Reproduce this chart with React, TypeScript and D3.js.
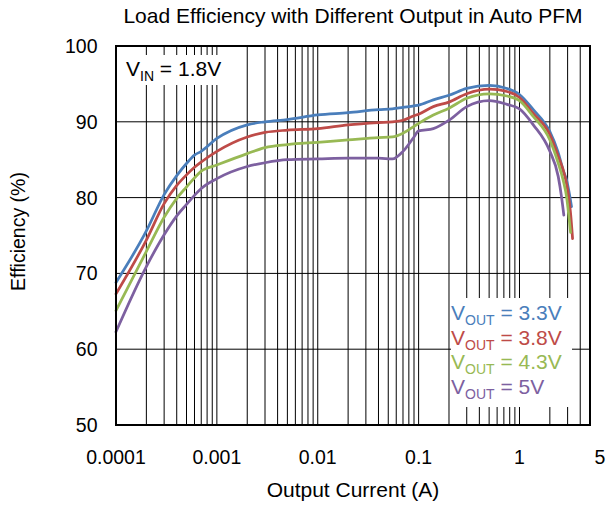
import React from 'react';
import * as d3 from 'd3';

const W = 606;
const H = 511;

const titleText = 'Load Efficiency with Different Output in Auto PFM';
const xTitle = 'Output Current (A)';
const yTitle = 'Efficiency (%)';
const xTickValues = [0.0001, 0.001, 0.01, 0.1, 1, 5];
const xTickLabels = ['0.0001', '0.001', '0.01', '0.1', '1', '5'];
const yTickValues = [50, 60, 70, 80, 90, 100];

const currents = [0.0001, 0.0002, 0.0003, 0.0004, 0.0005, 0.0006, 0.0007, 0.001, 0.002, 0.003, 0.005, 0.01, 0.02, 0.04, 0.055, 0.07, 0.09, 0.1, 0.14, 0.2, 0.3, 0.5, 0.75, 1.0, 1.37, 2.0];
const eff33 = [68.8, 75.6, 80.4, 82.9, 84.5, 85.6, 86.1, 87.8, 89.6, 90.0, 90.3, 90.9, 91.2, 91.6, 91.7, 91.9, 92.1, 92.2, 92.9, 93.5, 94.4, 94.8, 94.4, 93.6, 91.6, 88.7];
const eff38 = [67.3, 74.4, 79.2, 81.6, 83.0, 84.0, 84.7, 86.1, 88.0, 88.6, 88.9, 89.1, 89.6, 89.9, 90.0, 90.2, 90.8, 91.0, 92.0, 92.6, 93.7, 94.3, 94.0, 93.2, 91.1, 88.3];
const eff43 = [65.1, 72.9, 77.4, 79.9, 81.4, 82.6, 83.5, 84.3, 85.8, 86.6, 87.0, 87.3, 87.6, 87.9, 88.0, 88.5, 89.4, 89.8, 90.9, 91.8, 93.1, 93.7, 93.4, 92.8, 90.7, 87.6];
const eff5 = [62.3, 70.9, 75.1, 77.6, 79.1, 80.3, 81.2, 82.5, 84.1, 84.6, 85.0, 85.1, 85.2, 85.2, 85.1, 86.1, 88.0, 88.8, 89.1, 90.2, 92.0, 92.8, 92.3, 91.7, 89.6, 86.1];

const tail33I = [2.4, 2.71, 2.93, 3.16, 3.28];
const tail33E = [86.1, 83.6, 82.3, 80.1, 78.8];
const tail38I = [2.4, 2.82, 3.04, 3.21, 3.36];
const tail38E = [85.6, 82.8, 80.6, 77.9, 74.6];
const tail43I = [2.4, 2.71, 2.93, 3.09, 3.21];
const tail43E = [84.7, 82.3, 80.1, 77.5, 75.4];
const tail5I = [2.42, 2.61, 2.75];
const tail5E = [82.8, 80.1, 77.7];

const seriesNames = ['3.3V', '3.8V', '4.3V', '5V'];
const seriesColors = ['#4A7EBB', '#BE4B48', '#98B954', '#7D60A0'];

const FONT = '"Liberation Sans", Arial, sans-serif';

export default function App() {
  const left = 116, right = 590, top = 46, bottom = 425;
  const x = d3.scaleLog().domain([0.0001, 5]).range([left, right]);
  const y = d3.scaleLinear().domain([50, 100]).range([bottom, top]);

  const series = [
    { main: eff33, ti: tail33I, te: tail33E },
    { main: eff38, ti: tail38I, te: tail38E },
    { main: eff43, ti: tail43I, te: tail43E },
    { main: eff5, ti: tail5I, te: tail5E },
  ].map((s) => {
    const pts: [number, number][] = currents.map((c, i) => [c, s.main[i]]);
    s.ti.forEach((c, i) => pts.push([c, s.te[i]]));
    return pts;
  });

  const line = d3
    .line<[number, number]>()
    .x((d) => x(d[0]))
    .y((d) => y(d[1]))
    .curve(d3.curveMonotoneX);

  const minorTicks = x.ticks().filter((v) => v > 0.0001 * 1.001 && v < 5 * 0.999);
  const hGrid = yTickValues.filter((v) => v > 50 && v < 100);

  const vinBox = { x0: 120, x1: 225, y0: 55, y1: 85 };
  const legBox = { x0: 451, x1: 572, y0: 298, y1: 407 };

  return (
    <svg width={W} height={H} style={{ position: 'absolute', left: 0, top: 0, background: '#fff' }} fontFamily={FONT}>
      <rect x={0} y={0} width={W} height={H} fill="#fff" />
      <text x={353} y={23} fontSize={21} textAnchor="middle" fill="#000">{titleText}</text>

      {minorTicks.map((v, i) => (
        <line key={'vg' + i} x1={x(v)} x2={x(v)} y1={top} y2={bottom} stroke="#000" strokeWidth={1} />
      ))}
      {hGrid.map((v, i) => (
        <line key={'hg' + i} x1={left} x2={right} y1={y(v)} y2={y(v)} stroke="#000" strokeWidth={1} />
      ))}

      <rect x={vinBox.x0} y={vinBox.y0} width={vinBox.x1 - vinBox.x0} height={vinBox.y1 - vinBox.y0} fill="#fff" />
      <text x={126} y={76} fontSize={21} fill="#000">
        V<tspan fontSize={14} dy={5}>IN</tspan><tspan dy={-5}> = 1.8V</tspan>
      </text>

      <rect x={legBox.x0} y={legBox.y0} width={legBox.x1 - legBox.x0} height={legBox.y1 - legBox.y0} fill="#fff" />
      {seriesNames.map((n, i) => (
        <text key={'lg' + i} x={451} y={320 + i * 24.6} fontSize={21} fill={seriesColors[i]}>
          V<tspan fontSize={14} dy={5}>OUT</tspan><tspan dy={-5}>{' = ' + n}</tspan>
        </text>
      ))}

      {series.map((pts, i) => (
        <path key={'s' + i} d={line(pts) || ''} fill="none" stroke={seriesColors[i]} strokeWidth={2.75} strokeLinejoin="round" strokeLinecap="round" />
      ))}

      <rect x={left} y={top} width={right - left} height={bottom - top} fill="none" stroke="#000" strokeWidth={2} />

      {yTickValues.map((v, i) => (
        <text key={'yt' + i} x={97.5} y={y(v) + 7} fontSize={19.5} textAnchor="end" fill="#000">{v}</text>
      ))}
      {xTickValues.map((v, i) => (
        <text key={'xt' + i} x={x(v) + (v === 5 ? 10 : 0)} y={463.5} fontSize={19.5} textAnchor="middle" fill="#000">{xTickLabels[i]}</text>
      ))}

      <text x={353} y={497} fontSize={21} textAnchor="middle" fill="#000">{xTitle}</text>
      <text transform={`translate(25, ${(top + bottom) / 2 - 4}) rotate(-90)`} fontSize={19.5} textAnchor="middle" fill="#000">{yTitle}</text>
    </svg>
  );
}
